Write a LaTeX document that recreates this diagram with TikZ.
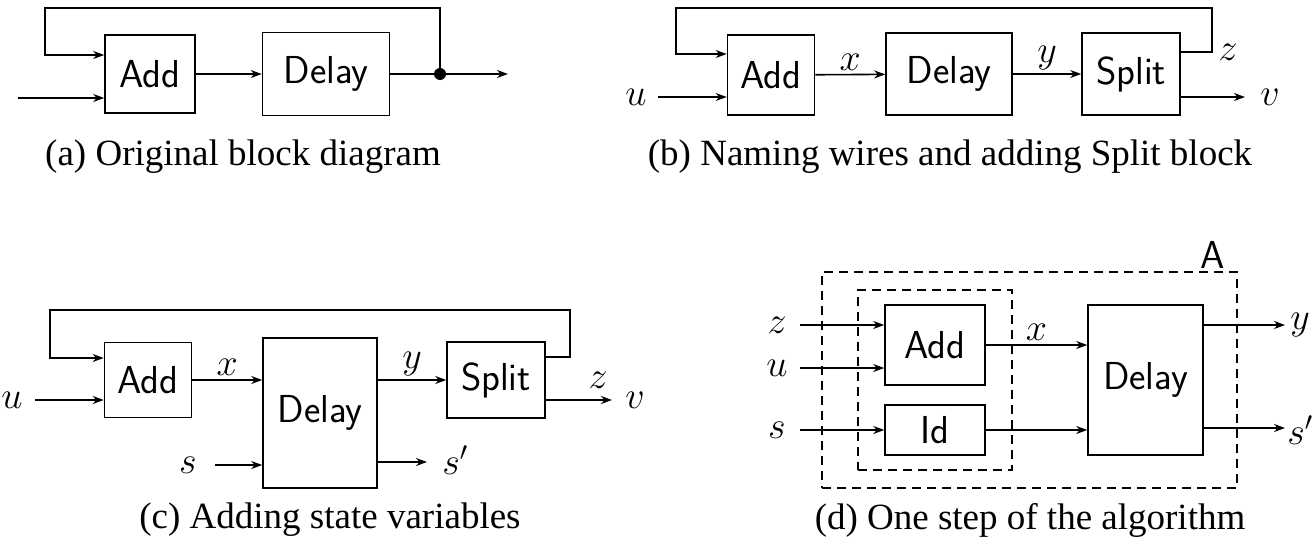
\RequirePackage{fix-cm}
\documentclass[tikz,border=0pt]{standalone}
\usepackage{fontspec}
\setmainfont{Liberation Serif}
\usetikzlibrary{arrows.meta}
\begin{document}
\begin{tikzpicture}[x=1pt,y=-1pt,line width=1.6pt,
  >={Stealth[length=11pt,width=8pt]},
  blk/.style={draw,inner sep=0,font=\fontsize{39}{44}\sffamily},
  lbl/.style={font=\fontsize{38}{44}\selectfont},
  captxt/.style={font=\fontsize{37}{42}\selectfont},
  dsh/.style={draw,dashed,line width=1.4pt,dash pattern=on 9pt off 6pt}]
\useasboundingbox (0,0) rectangle (1313,546);
% (a)
\node[blk,minimum width=90,minimum height=78] (aA) at (150,74) {Add};
\node[blk,minimum width=127,minimum height=83] (aD) at (326,74) {Delay};
\fill (440,74) circle (6) coordinate (adot);
\coordinate (ain) at (18,98); \coordinate (aout) at (508,74);
\draw[->] (ain) -- (ain -| aA.west);
\draw[->] (aA) -- (aD);
\draw (aD) -- (adot);
\draw[->] (adot) |- (45,8) |- ([yshift=19]aA.west);
\draw[->] (adot) -- (aout);
\node[captxt] (capa) at (243,157) {(a) Original block diagram};
% (b)
\node[blk,minimum width=87,minimum height=80] (bA) at (771,75) {Add};
\node[blk,minimum width=126,minimum height=82] (bD) at (949,74) {Delay};
\node[blk,minimum width=98,minimum height=82] (bS) at (1131,74) {Split};
\node[lbl] (bu) at (636,97) {$u$};
\coordinate (bin) at (658,97);
\coordinate (bout) at (1245,97);
\draw[->] (bin) -- (bin -| bA.west);
\draw[->] (bA) -- node[lbl,above] (bx) {$x$} (bD);
\draw[->] (bD) -- node[lbl,above] (by) {$y$} (bS);
\draw[->] (bS.east |- bout) -- (bout);
\node[lbl] (bv) at (1270,97) {$v$};
\draw[->] ([yshift=22]bS.east) -| (1212,8) -| (676,54) -- ([yshift=21]bA.west);
\node[lbl] (bz) at (1228,52) {$z$};
\node[captxt] (capb) at (950,157) {(b) Naming wires and adding Split block};
% (c)
\node[blk,minimum width=87,minimum height=75] (cA) at (148,380) {Add};
\node[blk,minimum width=114,minimum height=150] (cD) at (320,413) {Delay};
\node[blk,minimum width=98,minimum height=76] (cS) at (496,380) {Split};
\node[lbl] (cu) at (12,400) {$u$};
\coordinate (cin) at (35,400);
\draw[->] (cin) -- (cin -| cA.west);
\draw[->] (cA.east) -- node[lbl,above] (cx) {$x$} (cA.east -| cD.west);
\draw[->] (cS.west -| cD.east) -- node[lbl,above] (cy) {$y$} (cS.west);
\coordinate (cout) at (612,400);
\draw[->] (cS.east |- cout) -- (cout);
\node[lbl] (cv) at (635,400) {$v$};
\draw[->] ([yshift=23]cS.east) -| (570,310) -| (50,358) -- ([yshift=22]cA.west);
\node[lbl] (cz) at (598,380) {$z$};
\node[lbl] (cs) at (188,465) {$s$};
\coordinate (csin) at (215,465);
\draw[->] (csin) -- (csin -| cD.west);
\coordinate (csout) at (427,462);
\draw[->] (cD.east |- csout) -- (csout);
\node[lbl] (csp) at (455,460) {$s'$};
\node[captxt] (capc) at (330,520) {(c) Adding state variables};
% (d)
\node[dsh,minimum width=415,minimum height=216,inner sep=0] (dO) at (1029.5,380) {};
\node[font=\fontsize{39}{44}\sffamily] (dAl) at (1213,255) {A};
\node[dsh,minimum width=154,minimum height=180,inner sep=0] (dI) at (935,380) {};
\node[blk,minimum width=100,minimum height=80] (dA) at (935,345) {Add};
\node[blk,minimum width=100,minimum height=50] (dId) at (935,430) {Id};
\node[blk,minimum width=115,minimum height=150] (dD) at (1145.5,380) {Delay};
\node[lbl] (dz) at (777,325) {$z$};
\node[lbl] (du) at (777,368) {$u$};
\node[lbl] (ds) at (777,430) {$s$};
\coordinate (dzi) at (800,325); \coordinate (dui) at (800,368); \coordinate (dsi) at (800,430);
\draw[->] (dzi) -- (dzi -| dA.west);
\draw[->] (dui) -- (dui -| dA.west);
\draw[->] (dsi) -- (dsi -| dId.west);
\draw[->] (dA.east) -- node[lbl,above] (dx) {$x$} (dA.east -| dD.west);
\draw[->] (dId.east) -- (dId.east -| dD.west);
\coordinate (dyo) at (1285,325); \coordinate (dso) at (1285,428);
\draw[->] (dD.east |- dyo) -- (dyo);
\draw[->] (dD.east |- dso) -- (dso);
\node[lbl] (dy) at (1300,325) {$y$};
\node[lbl] (dsp) at (1300,430) {$s'$};
\node[captxt] (capd) at (1030,520) {(d) One step of the algorithm};
\end{tikzpicture}
\end{document}
